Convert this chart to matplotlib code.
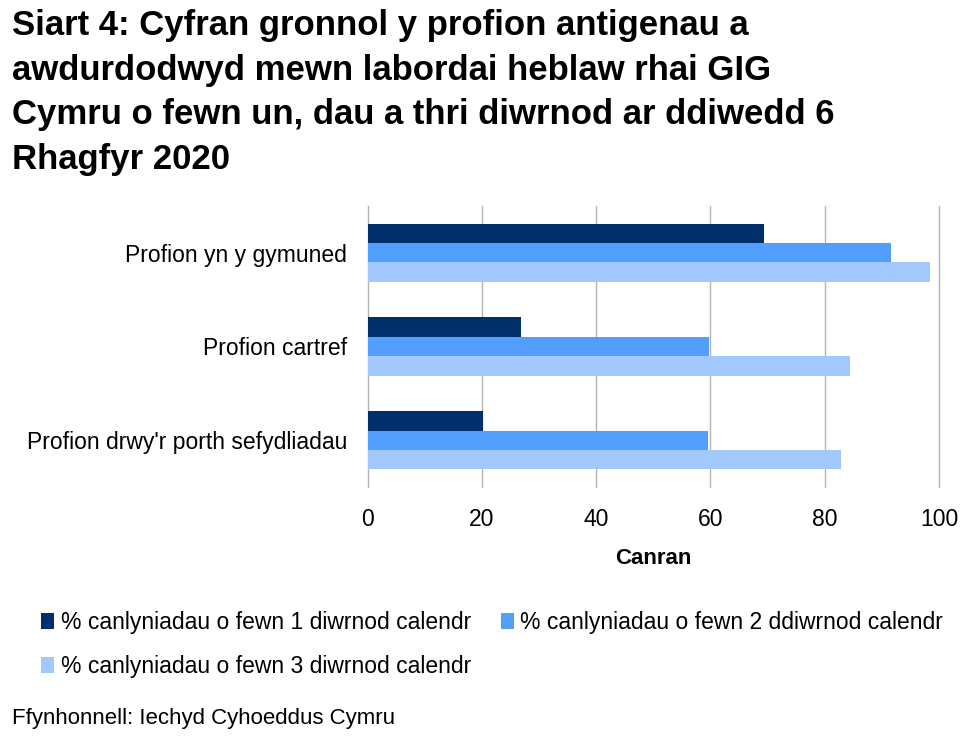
import matplotlib.pyplot as plt
import numpy as np

plt.rcParams["font.family"] = ["Liberation Sans", "DejaVu Sans"]

CATEGORIES = [
    "Profion yn y gymuned",
    "Profion cartref",
    "Profion drwy'r porth sefydliadau",
]
SERIES_LABELS = [
    "% canlyniadau o fewn 1 diwrnod calendr",
    "% canlyniadau o fewn 2 ddiwrnod calendr",
    "% canlyniadau o fewn 3 diwrnod calendr",
]
ONE_DAY = [69.3, 26.8, 20.1]
TWO_DAYS = [91.7, 59.8, 59.6]
THREE_DAYS = [98.5, 84.4, 82.9]

COLORS = ["#002f6c", "#529efd", "#a2c8fd"]

TITLE = ("Siart 4: Cyfran gronnol y profion antigenau a\n"
         "awdurdodwyd mewn labordai heblaw rhai GIG\n"
         "Cymru o fewn un, dau a thri diwrnod ar ddiwedd 6\n"
         "Rhagfyr 2020")
SOURCE = "Ffynhonnell: Iechyd Cyhoeddus Cymru"

fig = plt.figure(figsize=(9.78, 7.38), dpi=100)
ax = fig.add_axes([0.376, 0.340, 0.584, 0.381])

y = np.arange(len(CATEGORIES))
bar_h = 0.207
handles = []
for i, (vals, color, label) in enumerate(zip([ONE_DAY, TWO_DAYS, THREE_DAYS], COLORS, SERIES_LABELS)):
    h = ax.barh(y + (i - 1) * bar_h, vals, height=bar_h, color=color, label=label, zorder=2)
    handles.append(h)

ax.set_ylim(len(CATEGORIES) - 0.5, -0.5)
ax.set_xlim(0, 100)
ax.set_xticks([0, 20, 40, 60, 80, 100])
ax.set_yticks(y)
ax.set_yticklabels(CATEGORIES, fontsize=16.5)
ax.tick_params(axis="x", labelsize=16.5, length=0, pad=15)
ax.tick_params(axis="y", length=0, pad=15)
ax.xaxis.grid(True, color="#b3b3b3", linewidth=1, zorder=0)
for gl in ax.get_xgridlines():
    gl.set_clip_on(False)
for s in ax.spines.values():
    s.set_visible(False)
ax.axvline(0, color="#c6dbf7", linewidth=1.2, zorder=1)
ax.set_xlabel("Canran", fontsize=16, fontweight="bold", labelpad=12)

fig.text(0.012, 0.988, TITLE, fontsize=25, fontweight="bold", va="top", ha="left",
         linespacing=1.45)

fig.legend([handles[0], handles[2], handles[1]],
           [SERIES_LABELS[0], SERIES_LABELS[2], SERIES_LABELS[1]],
           loc="upper left", bbox_to_anchor=(0.033, 0.184), ncol=2, frameon=False,
           fontsize=16.5, handlelength=0.55, handleheight=0.7, handletextpad=0.3,
           columnspacing=1.3, labelspacing=0.9, borderaxespad=0)

fig.text(0.012, 0.027, SOURCE, fontsize=16, va="center", ha="left")

fig.savefig("out.png", dpi=100)
